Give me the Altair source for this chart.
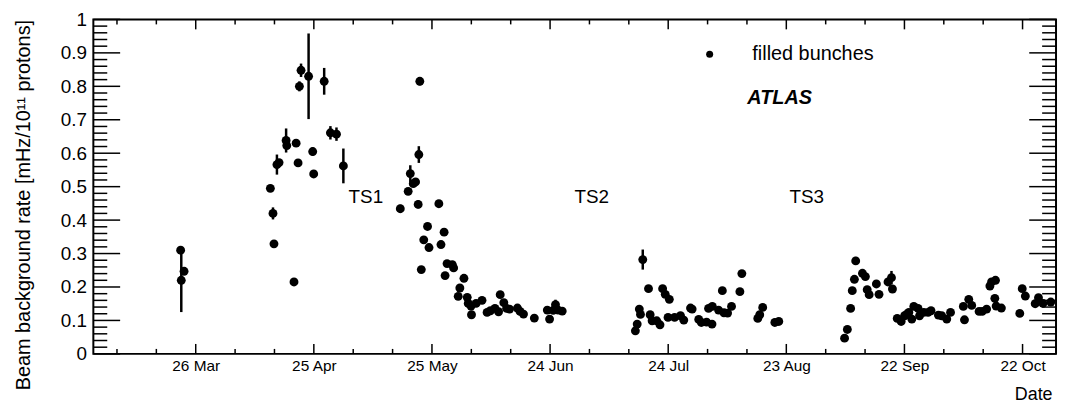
import altair as alt
import pandas as pd

# ---------------- data (year 2011, UTC) ----------------
dates = [
    "03-22 04", "03-23 01", "03-22 08",
    "04-13 23", "04-14 15", "04-14 21", "04-15 15", "04-16 04", "04-17 23", "04-18 03",
    "04-19 23", "04-20 12", "04-21 00", "04-21 08", "04-21 18", "04-23 16", "04-24 17",
    "04-24 23", "04-27 15", "04-29 05", "04-30 18", "05-02 12",
    "05-16 23", "05-18 23", "05-19 12", "05-20 06", "05-20 20", "05-21 12", "05-21 16",
    "05-21 22", "05-22 07", "05-22 22", "05-23 21", "05-24 06", "05-26 18", "05-27 07",
    "05-28 02", "05-28 08", "05-28 20", "05-30 04", "05-30 12", "05-31 16", "06-01 02",
    "06-02 03", "06-02 23", "06-03 05", "06-03 22", "06-04 01", "06-05 05", "06-06 17",
    "06-08 00", "06-08 20", "06-10 00", "06-10 22", "06-11 08", "06-12 06", "06-12 23",
    "06-13 17", "06-15 17", "06-16 09", "06-17 06", "06-20 00", "06-23 07", "06-23 21",
    "06-24 19", "06-25 09", "06-26 01", "06-27 02",
    "07-15 16", "07-16 03", "07-16 16", "07-16 23", "07-17 13", "07-19 00", "07-19 10",
    "07-19 22", "07-21 02", "07-21 22", "07-22 14", "07-23 06", "07-23 23", "07-24 07",
    "07-25 15", "07-27 03", "07-27 23", "07-29 16", "07-30 02", "07-31 18", "08-01 10",
    "08-02 18", "08-03 06", "08-04 03", "08-04 05", "08-05 19", "08-06 18", "08-07 04",
    "08-08 02", "08-09 02", "08-11 05", "08-11 17", "08-15 18", "08-16 06", "08-17 00",
    "08-20 02", "08-21 02",
    "09-06 19", "09-07 12", "09-08 08", "09-08 18", "09-09 07", "09-09 15", "09-11 08",
    "09-12 02", "09-12 13", "09-13 01", "09-14 21", "09-15 13", "09-17 20", "09-18 17",
    "09-18 23", "09-20 04", "09-21 04", "09-22 01", "09-22 15", "09-23 03", "09-23 21",
    "09-24 09", "09-25 11", "09-25 20", "09-26 22", "09-28 00", "09-28 18", "09-30 15",
    "10-01 11", "10-02 18", "10-03 17", "10-06 23", "10-07 06", "10-08 08", "10-09 02",
    "10-10 23", "10-11 18", "10-12 21", "10-13 17", "10-14 03", "10-14 23", "10-15 03",
    "10-15 07", "10-16 15", "10-21 07", "10-21 22", "10-22 17", "10-25 05", "10-26 01",
    "10-27 04", "10-29 04",
]
values = [
    0.310, 0.247, 0.220,
    0.495, 0.420, 0.329, 0.566, 0.572, 0.638, 0.623,
    0.215, 0.630, 0.571, 0.800, 0.848, 0.830, 0.605,
    0.538, 0.815, 0.661, 0.657, 0.562,
    0.434, 0.486, 0.539, 0.509, 0.514, 0.447, 0.596,
    0.815, 0.252, 0.341, 0.381, 0.318, 0.449, 0.327,
    0.364, 0.234, 0.270, 0.267, 0.257, 0.172, 0.197,
    0.226, 0.169, 0.151, 0.143, 0.117, 0.151, 0.160,
    0.124, 0.129, 0.136, 0.126, 0.177, 0.153, 0.136,
    0.134, 0.137, 0.127, 0.119, 0.107, 0.131, 0.104,
    0.130, 0.147, 0.131, 0.128,
    0.069, 0.089, 0.134, 0.118, 0.282, 0.195, 0.117,
    0.099, 0.099, 0.087, 0.195, 0.178, 0.109, 0.163,
    0.109, 0.114, 0.101, 0.137, 0.134, 0.103, 0.094,
    0.095, 0.136, 0.089, 0.142, 0.131, 0.189, 0.123,
    0.122, 0.142, 0.186, 0.240, 0.106, 0.117, 0.139,
    0.094, 0.097,
    0.047, 0.073, 0.136, 0.189, 0.223, 0.278, 0.241,
    0.231, 0.192, 0.177, 0.209, 0.178, 0.215, 0.228,
    0.194, 0.106, 0.097, 0.114, 0.119, 0.124, 0.104,
    0.142, 0.136, 0.114, 0.124, 0.124, 0.129, 0.116,
    0.114, 0.104, 0.124, 0.142, 0.102, 0.163, 0.145,
    0.127, 0.127, 0.134, 0.203, 0.215, 0.166, 0.220,
    0.143, 0.137, 0.121, 0.195, 0.173, 0.150, 0.168,
    0.151, 0.155,
]
errors = [
    0, 0, 0.095,
    0, 0.018, 0.008, 0.03, 0.01, 0.036, 0.01,
    0, 0, 0, 0.015, 0.02, 0.128, 0.012,
    0, 0.04, 0.02, 0.02, 0.052,
    0.012, 0, 0.025, 0, 0, 0.012, 0.025,
    0.012, 0, 0, 0, 0, 0, 0,
    0, 0, 0, 0, 0.01, 0, 0,
    0, 0, 0, 0, 0, 0, 0,
    0, 0, 0, 0, 0, 0, 0,
    0, 0, 0.01, 0, 0, 0, 0,
    0, 0.015, 0, 0,
    0, 0, 0, 0, 0.03, 0, 0,
    0, 0, 0, 0, 0, 0, 0,
    0, 0, 0, 0, 0, 0, 0,
    0, 0, 0, 0, 0, 0.01, 0,
    0, 0, 0, 0, 0, 0, 0,
    0, 0,
    0, 0, 0, 0, 0, 0.012, 0,
    0, 0, 0, 0, 0, 0, 0.02,
    0, 0, 0, 0, 0, 0, 0,
    0, 0, 0, 0, 0, 0, 0,
    0, 0, 0, 0, 0, 0, 0,
    0, 0, 0, 0, 0, 0, 0,
    0, 0, 0, 0, 0, 0, 0,
    0, 0,
]
series_name = "filled bunches"

ts_labels = ["TS1", "TS2", "TS3"]
ts_dates = ["05-08 05", "07-04 14", "08-28 04"]
ts_level = [0.469, 0.469, 0.469]

# axis tick positions
major_days = ["03-26", "04-25", "05-25", "06-24", "07-24", "08-23", "09-22", "10-22"]
minor_days = ["03-06", "03-16", "04-05", "04-15", "05-05", "05-15", "06-04", "06-14",
              "07-04", "07-14", "08-03", "08-13", "09-02", "09-12", "10-02", "10-12"]
y_major = [0, 0.1, 0.2, 0.3, 0.4, 0.5, 0.6, 0.7, 0.8, 0.9, 1.0]
y_minor = [round(i * 0.02, 2) for i in range(51) if i % 5 != 0]


def iso(s):
    hh = s[6:8] if len(s) > 5 else "00"
    return f"2011-{s[:5]}T{hh}:00:00Z"


df = pd.DataFrame({
    "date": [iso(s) for s in dates],
    "value": values,
    "err": errors,
    "series": [series_name] * len(values),
})
df["lo"] = df["value"] - df["err"]
df["hi"] = df["value"] + df["err"]
err_df = df[df["err"] > 0]

ts_df = pd.DataFrame({"date": [iso(s) for s in ts_dates], "value": ts_level, "label": ts_labels})
atlas_df = pd.DataFrame({"t": ["ATLAS"]})
xmaj_df = pd.DataFrame({"date": [iso(s) for s in major_days]})
xmin_df = pd.DataFrame({"date": [iso(s) for s in minor_days]})
ymaj_df = pd.DataFrame({"value": y_major})
ymin_df = pd.DataFrame({"value": y_minor})

# ---------------- layout ----------------
W, H = 970, 337
FONT = "Liberation Sans"

major_dt = [alt.DateTime(year=2011, month=int(s[:2]), date=int(s[3:5]), utc=True)
            for s in major_days]

xsc = alt.Scale(type="utc", nice=False,
                domain=[alt.DateTime(year=2011, month=2, date=28, utc=True),
                        alt.DateTime(year=2011, month=10, date=30, hours=12, utc=True)])
ysc = alt.Scale(domain=[0, 1], nice=False, zero=False)

main_x = alt.Axis(orient="bottom", values=major_dt, format="%d %b", ticks=False,
                  domain=False, grid=False,
                  labelFont=FONT, labelFontSize=15.5, labelColor="black", labelPadding=5,
                  labelFlush=False, labelOverlap=False,
                  title="Date", titleFont=FONT, titleFontSize=18, titleFontWeight="normal",
                  titleColor="black", titleAlign="right", titleAnchor="end",
                  titleX=W - 4, titleY=46, titleBaseline="alphabetic")
main_y = alt.Axis(orient="left", values=y_major, format="~g", ticks=False,
                  domain=False, grid=False,
                  labelFont=FONT, labelFontSize=19, labelColor="black", labelPadding=7,
                  title="Beam background rate [mHz/10\u00b9\u00b9 protons]",
                  titleFont=FONT, titleFontSize=20, titleFontWeight="normal",
                  titleColor="black", titleAngle=270, titleAlign="right",
                  titleX=-64, titleY=0, titleBaseline="alphabetic")


def X():
    return alt.X("date:T", scale=xsc, axis=main_x)


def Y(field="value"):
    return alt.Y(f"{field}:Q", scale=ysc, axis=main_y)


points = alt.Chart(df).mark_circle(size=80, opacity=1).encode(
    x=X(), y=Y(),
    color=alt.Color("series:N",
                    scale=alt.Scale(domain=[series_name], range=["black"]),
                    legend=alt.Legend(orient="none", legendX=611, legendY=25, title=None,
                                      symbolType="circle", symbolSize=50,
                                      symbolFillColor="black", symbolStrokeWidth=0,
                                      labelFont=FONT, labelFontSize=20, labelColor="black",
                                      labelOffset=33, padding=0)),
)

errbars = alt.Chart(err_df).mark_rule(color="black", strokeWidth=2.5).encode(
    x=X(), y=Y("lo"), y2="hi:Q",
)

ts_text = alt.Chart(ts_df).mark_text(font=FONT, fontSize=19, color="black",
                                     align="center", baseline="middle").encode(
    x=X(), y=Y(), text="label:N",
)


def xticks(data, length, at_top):
    y0, y1 = (0, length) if at_top else (H, H - length)
    return alt.Chart(data).mark_rule(color="black", strokeWidth=1.5).encode(
        x=X(), y=alt.value(y0), y2=alt.value(y1),
    )


def yticks(data, length, at_right):
    x0, x1 = (W, W - length) if at_right else (0, length)
    return alt.Chart(data).mark_rule(color="black", strokeWidth=1.5).encode(
        y=Y(), x=alt.value(x0), x2=alt.value(x1),
    )


tick_layers = [
    xticks(xmaj_df, 10, False), xticks(xmin_df, 5, False),
    xticks(xmaj_df, 10, True), xticks(xmin_df, 5, True),
    yticks(ymaj_df, 27, False), yticks(ymin_df, 14, False),
    yticks(ymaj_df, 27, True), yticks(ymin_df, 14, True),
]

atlas = alt.Chart(atlas_df).mark_text(font=FONT, fontSize=20, fontWeight="bold",
                                      fontStyle="italic", color="black",
                                      align="left", baseline="middle").encode(
    x=alt.value(659), y=alt.value(79), text="t:N",
)

chart = alt.layer(points, errbars, *tick_layers, ts_text, atlas).properties(
    width=W, height=H,
    autosize=alt.AutoSizeParams(type="none"),
    padding={"left": 86, "top": 10, "right": 3, "bottom": 51},
    background="white",
).configure_view(stroke="black", strokeWidth=2)

chart.save("out.html", embed_options={"renderer": "svg", "actions": False})
